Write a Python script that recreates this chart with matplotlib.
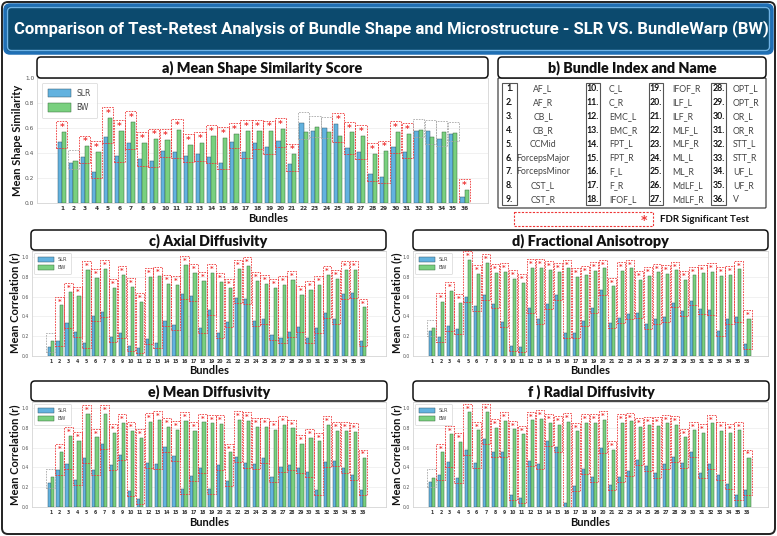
import matplotlib
matplotlib.use('Agg')
import matplotlib.pyplot as plt
from matplotlib.patches import FancyBboxPatch, Rectangle
import numpy as np

W, H = 777, 536

bundles = list(range(1, 37))
bundle_names = ["AF_L", "AF_R", "CB_L", "CB_R", "CCMid", "ForcepsMajor", "ForcepsMinor",
                "CST_L", "CST_R", "C_L", "C_R", "EMC_L", "EMC_R", "FPT_L", "FPT_R", "F_L",
                "F_R", "IFOF_L", "IFOF_R", "ILF_L", "ILF_R", "MLF_L", "MLF_R", "ML_L", "ML_R",
                "MdLF_L", "MdLF_R", "OPT_L", "OPT_R", "OR_L", "OR_R", "STT_L", "STT_R",
                "UF_L", "UF_R", "V"]

# a) Mean shape similarity
shape_slr = [0.49, 0.32, 0.37, 0.25, 0.53, 0.38, 0.48, 0.35, 0.34, 0.42, 0.41, 0.38,
             0.39, 0.37, 0.32, 0.49, 0.41, 0.48, 0.445, 0.50, 0.31, 0.64, 0.58, 0.60,
             0.635, 0.44, 0.405, 0.23, 0.21, 0.45, 0.41, 0.58, 0.58, 0.51, 0.55, 0.045]
shape_bw = [0.57, 0.34, 0.455, 0.41, 0.68, 0.58, 0.65, 0.48, 0.51, 0.505, 0.585, 0.465,
            0.48, 0.54, 0.52, 0.555, 0.58, 0.58, 0.575, 0.595, 0.39, 0.565, 0.61, 0.57,
            0.54, 0.565, 0.54, 0.395, 0.415, 0.57, 0.555, 0.585, 0.525, 0.57, 0.56, 0.105]
shape_sig = [1, 0, 1, 1, 1, 1, 1, 1, 1, 1, 1, 1, 1, 1, 1, 1, 1, 1, 1, 1, 1, 0, 0, 0,
             1, 1, 1, 1, 1, 1, 1, 0, 0, 0, 0, 1]

# c) Axial diffusivity
ad_slr = [0.09, 0.15, 0.33, 0.24, 0.13, 0.40, 0.44, 0.19, 0.23, 0.10, 0.08, 0.17,
          0.13, 0.35, 0.31, 0.63, 0.61, 0.28, 0.46, 0.23, 0.34, 0.59, 0.58, 0.35,
          0.37, 0.21, 0.18, 0.24, 0.29, 0.18, 0.28, 0.43, 0.37, 0.63, 0.64, 0.15]
ad_bw = [0.15, 0.51, 0.65, 0.61, 0.87, 0.79, 0.88, 0.69, 0.82, 0.70, 0.55, 0.80,
         0.81, 0.73, 0.72, 0.92, 0.84, 0.76, 0.84, 0.75, 0.69, 0.88, 0.91, 0.76,
         0.73, 0.69, 0.72, 0.77, 0.62, 0.67, 0.72, 0.82, 0.78, 0.87, 0.87, 0.49]
ad_sig = [0] + [1] * 35

# d) Fractional anisotropy
fa_slr = [0.25, 0.19, 0.30, 0.27, 0.60, 0.50, 0.62, 0.53, 0.34, 0.10, 0.09, 0.48,
          0.37, 0.52, 0.62, 0.23, 0.23, 0.35, 0.48, 0.67, 0.33, 0.38, 0.42, 0.43,
          0.32, 0.37, 0.39, 0.54, 0.45, 0.56, 0.47, 0.46, 0.25, 0.37, 0.39, 0.12]
fa_bw = [0.28, 0.55, 0.66, 0.54, 0.97, 0.83, 0.94, 0.84, 0.85, 0.78, 0.74, 0.89,
         0.89, 0.87, 0.85, 0.885, 0.80, 0.82, 0.86, 0.885, 0.705, 0.86, 0.885, 0.77,
         0.81, 0.845, 0.83, 0.865, 0.77, 0.815, 0.835, 0.85, 0.81, 0.82, 0.875, 0.375]
fa_sig = [0] + [1] * 35

# e) Mean diffusivity
md_slr = [0.24, 0.37, 0.43, 0.27, 0.49, 0.37, 0.64, 0.42, 0.525, 0.16, 0.085, 0.44,
          0.43, 0.61, 0.51, 0.18, 0.31, 0.39, 0.18, 0.42, 0.26, 0.50, 0.44, 0.43,
          0.49, 0.30, 0.40, 0.42, 0.39, 0.35, 0.17, 0.45, 0.46, 0.39, 0.325, 0.175]
md_bw = [0.30, 0.555, 0.72, 0.67, 0.94, 0.705, 0.94, 0.75, 0.85, 0.77, 0.70, 0.86,
         0.88, 0.81, 0.78, 0.87, 0.77, 0.855, 0.845, 0.84, 0.555, 0.88, 0.87, 0.81,
         0.81, 0.78, 0.83, 0.795, 0.64, 0.70, 0.665, 0.83, 0.77, 0.77, 0.76, 0.495]
md_sig = [0] + [1] * 35

# f) Radial diffusivity
rd_slr = [0.25, 0.32, 0.45, 0.29, 0.575, 0.44, 0.69, 0.555, 0.555, 0.125, 0.09, 0.46,
          0.43, 0.67, 0.61, 0.045, 0.21, 0.38, 0.30, 0.60, 0.22, 0.30, 0.36, 0.47,
          0.41, 0.345, 0.43, 0.50, 0.44, 0.555, 0.345, 0.43, 0.32, 0.235, 0.12, 0.175]
rd_bw = [0.295, 0.555, 0.735, 0.66, 0.955, 0.775, 0.955, 0.80, 0.87, 0.785, 0.735, 0.875,
         0.89, 0.85, 0.83, 0.86, 0.765, 0.85, 0.85, 0.88, 0.58, 0.85, 0.865, 0.81,
         0.825, 0.82, 0.845, 0.83, 0.705, 0.775, 0.75, 0.845, 0.77, 0.75, 0.775, 0.495]
rd_sig = [0] + [1] * 35

C_SLR = '#62b2df'
C_BW = '#79d07f'
RED = '#ee3636'
GRAY = '#a8a8a8'
FONT = 'Lato'

fig = plt.figure(figsize=(W / 100, H / 100), dpi=100)
fig.patch.set_facecolor('white')
renderer = fig.canvas.get_renderer()


def add_ax(x0, y0, x1, y1):
    return fig.add_axes([x0 / W, 1 - y1 / H, (x1 - x0) / W, (y1 - y0) / H])


def draw_bars(ax, slr, bw, sig, xlim, ylim, tick_fs, star_fs, leg_fs, leg_kw):
    x = np.array(bundles, dtype=float)
    w = 0.36
    ax.bar(x - w / 2, slr, w, color=C_SLR, edgecolor='#35596b', linewidth=0.35,
           label='SLR', zorder=3)
    ax.bar(x + w / 2, bw, w, color=C_BW, edgecolor='#386b3c', linewidth=0.35,
           label='BW', zorder=3)
    for xi, s, b, g in zip(x, slr, bw, sig):
        lo = min(s, b) - 0.05
        hi = max(s, b) + 0.085
        col = RED if g else GRAY
        ax.add_patch(Rectangle((xi - 0.48, lo), 0.96, hi - lo, fill=False, edgecolor=col,
                               linestyle=(0, (2.0, 1.3)), linewidth=0.6, zorder=4))
        if g:
            ax.text(xi, hi - 0.05, '*', color=RED, fontsize=star_fs, ha='center',
                    va='center', fontweight='bold', zorder=5, family='DejaVu Sans')
    ax.set_xlim(*xlim)
    ax.set_ylim(*ylim)
    ax.set_xticks(x)
    ax.set_xticklabels([str(b) for b in bundles], fontsize=tick_fs, fontweight='bold',
                       color='#333333', family='DejaVu Sans')
    yt = np.round(np.arange(0, 1.01, 0.2), 1)
    ax.set_yticks(yt)
    ax.set_yticklabels([f'{v:.1f}' for v in yt], fontsize=tick_fs, color='#555555',
                       family='DejaVu Sans')
    ax.tick_params(length=0, pad=2)
    ax.yaxis.grid(True, color='#ececec', linewidth=0.5)
    ax.set_axisbelow(True)
    for sp in ax.spines.values():
        sp.set_color('#d4d4d4')
        sp.set_linewidth(0.6)
    leg = ax.legend(loc='upper left', prop={'family': 'DejaVu Sans', 'size': leg_fs},
                    frameon=True, fancybox=True, **leg_kw)
    leg.get_frame().set_edgecolor('#cccccc')
    leg.get_frame().set_linewidth(0.5)
    for t in leg.get_texts():
        t.set_color('#444444')


# panel a
ax_a = add_ax(37, 78, 488, 203)
draw_bars(ax_a, shape_slr, shape_bw, shape_sig, (-1.17, 38.04), (0, 1.0), 4.2, 6.5, 5.5,
          dict(handlelength=3.0, handleheight=1.3, borderpad=0.8, labelspacing=0.7,
               borderaxespad=0.6))

# panels c-f
leg_small = dict(handlelength=3.2, handleheight=1.2, borderpad=0.7, labelspacing=0.6,
                 borderaxespad=0.4)
ax_c = add_ax(32, 251, 386, 356)
draw_bars(ax_c, ad_slr, ad_bw, ad_sig, (-1.1, 38.6), (0, 1.06), 3.3, 5, 3.6, leg_small)
ax_d = add_ax(413, 251, 768, 356)
draw_bars(ax_d, fa_slr, fa_bw, fa_sig, (-1.08, 38.3), (0, 1.06), 3.3, 5, 3.6, leg_small)
ax_e = add_ax(32, 402, 386, 507)
draw_bars(ax_e, md_slr, md_bw, md_sig, (-1.1, 38.6), (0, 1.06), 3.3, 5, 3.6, leg_small)
ax_f = add_ax(413, 402, 768, 507)
draw_bars(ax_f, rd_slr, rd_bw, rd_sig, (-1.08, 38.3), (0, 1.06), 3.3, 5, 3.6, leg_small)

# overlay for decorations
ov = fig.add_axes([0, 0, 1, 1])
ov.set_xlim(0, W)
ov.set_ylim(H, 0)
ov.axis('off')


def rbox(x0, y0, x1, y1, fc='white', ec='black', lw=1.0, r=4, z=1, ls='-', fill=True):
    p = FancyBboxPatch((x0, y0), x1 - x0, y1 - y0,
                       boxstyle=f'round,pad=0,rounding_size={r}',
                       facecolor=fc, edgecolor=ec, linewidth=lw, linestyle=ls,
                       zorder=z, fill=fill)
    ov.add_patch(p)


def fit_text(t, target_w):
    bb = t.get_window_extent(renderer=renderer)
    t.set_fontsize(t.get_fontsize() * target_w / bb.width)


# outer frame
rbox(2, 2, 775, 534, fill=False, ec='#222222', lw=1.4, r=6, z=0)

# title banner
rbox(5, 5, 772, 53, fc='#0c4a6e', ec='#1f6fb5', lw=2.5, r=5, z=2)
rbox(7.5, 7.5, 769.5, 50.5, fill=False, ec='#6fb3e6', lw=1.0, r=4, z=3)
t = ov.text(391, 28.5,
            'Comparison of Test-Retest Analysis of Bundle Shape and Microstructure - SLR VS. BundleWarp (BW)',
            color='white', fontsize=12, fontweight='bold', ha='center', va='center',
            family=['Liberation Sans Narrow', 'Roboto', 'DejaVu Sans'], zorder=4)
fit_text(t, 755)

# panel headers
headers = [
    (37, 57, 488, 78, 'a) Mean Shape Similarity Score', 200),
    (498, 57, 766, 78, 'b) Bundle Index and Name', 169),
    (31, 230, 386, 250, 'c) Axial Diffusivity', 118),
    (413, 230, 768, 250, 'd) Fractional Anisotropy', 157),
    (31, 381, 387, 401, 'e) Mean Diffusivity', 122),
    (413, 381, 769, 401, 'f ) Radial Diffusivity', 127),
]
for x0, y0, x1, y1, txt, tw in headers:
    rbox(x0, y0, x1, y1, fc='white', ec='#111111', lw=1.1, r=4, z=2)
    t = ov.text((x0 + x1) / 2, (y0 + y1) / 2 + 0.5, txt, fontsize=10, fontweight='heavy',
                ha='center', va='center', family=FONT, color='#111111', zorder=3)
    fit_text(t, tw)

# axis labels
lab_kw = dict(fontsize=8, fontweight='bold', family=FONT, color='#111111',
              ha='center', va='center')
ov.text(18, 140, 'Mean Shape Similarity', rotation=90, **lab_kw)
ov.text(268, 218, 'Bundles', **lab_kw)
for xl, yl in [(15, 303), (397, 303), (15, 455), (397, 455)]:
    ov.text(xl, yl, 'Mean Correlation (r)', rotation=90, **lab_kw)
for xb, yb in [(209, 371), (590, 371), (209, 522), (590, 522)]:
    ov.text(xb, yb, 'Bundles', **lab_kw)

# panel b table
rbox(498, 78, 766, 208, fill=False, ec='#444444', lw=0.9, r=1, z=1)
row_y = [88.3 + k * 13.95 for k in range(9)]
cols = [  # box x0, x1, name x, name ha
    (502, 517, 543, 'center'),
    (586, 600, 609, 'left'),
    (649, 663, 672, 'left'),
    (711, 726, 733, 'left'),
]
for ci, (bx0, bx1, nx, nha) in enumerate(cols):
    ov.add_patch(Rectangle((bx0, 83), bx1 - bx0, 122, fill=False, edgecolor='#555555',
                           linewidth=0.8, zorder=2))
    for ri in range(9):
        idx = ci * 9 + ri
        ov.text((bx0 + bx1) / 2, row_y[ri], f'{bundles[idx]}.', fontsize=6.3,
                fontweight='bold', family=FONT, ha='center', va='center', color='#111111')
        ov.text(nx, row_y[ri], bundle_names[idx], fontsize=6.3, family=FONT,
                ha=nha, va='center', color='#444444')

# FDR legend
ov.add_patch(Rectangle((514, 212), 139, 14, fill=False, edgecolor=RED,
                       linestyle=(0, (2.0, 1.3)), linewidth=0.8, zorder=2))
ov.text(644, 220.5, '*', color=RED, fontsize=9, fontweight='bold', ha='center',
        va='center', family='DejaVu Sans')
ov.text(660, 219, 'FDR Significant Test', fontsize=7, fontweight='bold', family=FONT,
        ha='left', va='center', color='#111111')

fig.savefig('out.png', dpi=100, facecolor='white')
